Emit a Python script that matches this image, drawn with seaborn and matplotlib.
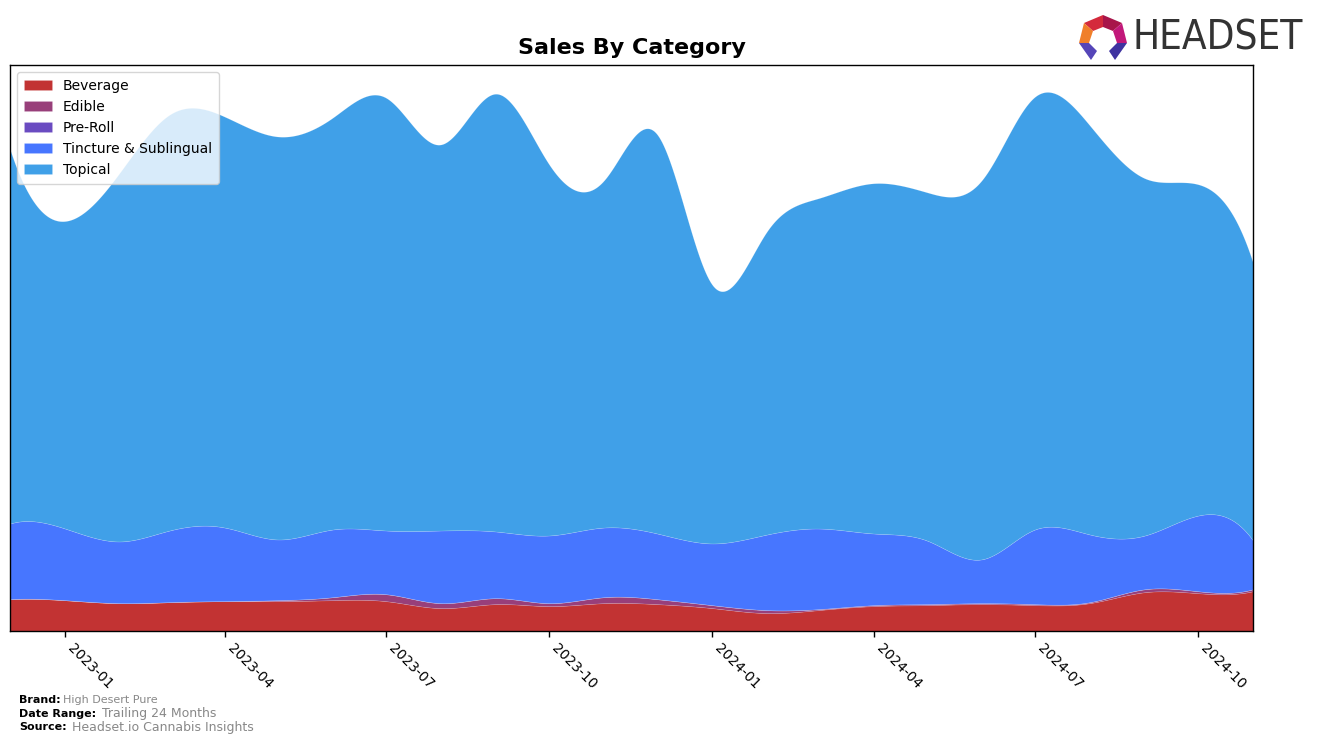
import numpy as np
import pandas as pd
import matplotlib
matplotlib.use("Agg")
import matplotlib.pyplot as plt
import matplotlib.dates as mdates
from matplotlib.patches import Polygon
import seaborn as sns

# ---------------- data (monthly, arbitrary sales units) ----------------
months = pd.date_range("2022-12-01", periods=24, freq="MS")
categories = ["Beverage", "Edible", "Pre-Roll", "Tincture & Sublingual", "Topical"]
beverage = [32, 31, 28, 29, 30, 30, 31, 30, 23, 27, 25, 28,
            27, 23, 18, 21, 25, 26, 27, 26, 28, 39, 38, 40]
edible = [0, 0, 0, 0, 0, 1, 3, 7, 5, 6, 3, 6,
          5, 3, 3, 1, 1, 1, 1, 1, 1, 3, 2, 2]
preroll = [0, 0, 0, 0, 0, 0, 0, 0, 0, 0, 0, 0,
           0, 0, 0, 0, 0, 0, 0, 0, 0, 0, 0, 0]
tincture = [76, 72, 62, 72, 74, 61, 68, 64, 73, 67, 68, 70,
            66, 62, 76, 81, 72, 64, 44, 75, 68, 54, 76, 49]
topical = [376, 309, 371, 418, 413, 405, 414, 435, 388, 440, 373, 349,
           401, 260, 305, 332, 352, 350, 381, 435, 411, 359, 333, 279]
colors = ["#c23333", "#983f7a", "#6a4bc1", "#4776ff", "#40a0e8"]

series = [beverage, edible, preroll, tincture, topical]


def spline(x, y, xs):
    """Cubic spline (not-a-knot) used only for smooth rendering."""
    x = np.asarray(x, float)
    y = np.asarray(y, float)
    n = len(x)
    h = np.diff(x)
    A = np.zeros((n, n))
    r = np.zeros(n)
    A[0, 0], A[0, 1], A[0, 2] = h[1], -(h[0] + h[1]), h[0]
    A[-1, -3], A[-1, -2], A[-1, -1] = h[-1], -(h[-2] + h[-1]), h[-2]
    for i in range(1, n - 1):
        A[i, i - 1] = h[i - 1]
        A[i, i] = 2 * (h[i - 1] + h[i])
        A[i, i + 1] = h[i]
        r[i] = 6 * ((y[i + 1] - y[i]) / h[i] - (y[i] - y[i - 1]) / h[i - 1])
    M = np.linalg.solve(A, r)
    idx = np.clip(np.searchsorted(x, xs) - 1, 0, n - 2)
    x0, x1 = x[idx], x[idx + 1]
    hh = x1 - x0
    a = (x1 - xs) / hh
    b = (xs - x0) / hh
    return (a * y[idx] + b * y[idx + 1]
            + ((a ** 3 - a) * M[idx] + (b ** 3 - b) * M[idx + 1]) * hh ** 2 / 6)


xnum = mdates.date2num(months)
xs = np.linspace(xnum[0], xnum[-1], 800)
smooth = [np.clip(spline(xnum, s, xs), 0, None) for s in series]

# ---------------- figure ----------------
sns.set_theme(style="white")
plt.rcParams["font.family"] = ["DejaVu Sans"]
plt.rcParams["text.color"] = "black"
plt.rcParams["axes.labelcolor"] = "black"
plt.rcParams["xtick.color"] = "black"

fig = plt.figure(figsize=(13.17, 7.43), dpi=100)
ax = fig.add_axes([10 / 1317, 1 - 631 / 743, 1243 / 1317, 566 / 743])

ax.stackplot(mdates.num2date(xs), *smooth, labels=categories, colors=colors,
             linewidth=0.4, edgecolor="#ffffff33")

ax.set_xlim(months[0], months[-1])
ax.set_ylim(0, None)
ax.set_yticks([])
ax.xaxis.set_major_locator(mdates.MonthLocator(bymonth=[1, 4, 7, 10]))
ax.xaxis.set_major_formatter(mdates.DateFormatter("%Y-%m"))
ax.tick_params(axis="x", bottom=True, length=4, width=1, color="black",
               labelsize=10, labelcolor="black")
for lbl in ax.get_xticklabels():
    lbl.set_rotation(-45)
    lbl.set_ha("left")
    lbl.set_rotation_mode("default")
for sp in ax.spines.values():
    sp.set_color("black")
    sp.set_linewidth(1)

ax.set_title("Sales By Category", fontsize=16, fontweight="bold", pad=8,
             color="black")
leg = ax.legend(loc="upper left", fontsize=10, frameon=True, framealpha=0.8,
                edgecolor="#cccccc", handlelength=2, borderpad=0.5,
                bbox_to_anchor=(0.0, 1.0))
for t in leg.get_texts():
    t.set_color("black")

# ---------------- footer ----------------
def fx(px):
    return px / 1317


def fy(py):
    return 1 - py / 743


fig.text(fx(19), fy(700), "Brand:", fontsize=8, fontweight="bold", va="center")
fig.text(fx(63), fy(700), "High Desert Pure", fontsize=8, color="#888888", va="center")
fig.text(fx(19), fy(714), "Date Range:", fontsize=8, fontweight="bold", va="center")
fig.text(fx(102), fy(714), "Trailing 24 Months", fontsize=9, color="#888888", va="center")
fig.text(fx(19), fy(727), "Source:", fontsize=8, fontweight="bold", va="center")
fig.text(fx(72), fy(727), "Headset.io Cannabis Insights", fontsize=9, color="#888888", va="center")

# ---------------- logo ----------------
logo_polys = [
    ([(1084, 23), (1103, 15), (1103, 27), (1093, 31)], "#d42a3c"),
    ([(1103, 15), (1122, 23), (1113, 31), (1103, 27)], "#a8154a"),
    ([(1122, 23), (1127, 43), (1117, 43), (1113, 31)], "#c2187a"),
    ([(1084, 23), (1093, 31), (1089, 43), (1079, 43)], "#f07f2a"),
    ([(1079, 43), (1089, 43), (1097, 51), (1091, 60)], "#5545b8"),
    ([(1127, 43), (1117, 43), (1109, 51), (1115, 60)], "#3f33a0"),
]
for pts, c in logo_polys:
    fig.patches.append(Polygon([(fx(a), fy(b)) for a, b in pts], closed=True,
                               facecolor=c, edgecolor="none",
                               transform=fig.transFigure, figure=fig))
fig.text(fx(1133), fy(38), "HEADSET", fontsize=29, color="#333333",
         va="center", ha="left", family=["DejaVu Sans"], fontstretch="condensed")

fig.savefig("out.png", dpi=100)
